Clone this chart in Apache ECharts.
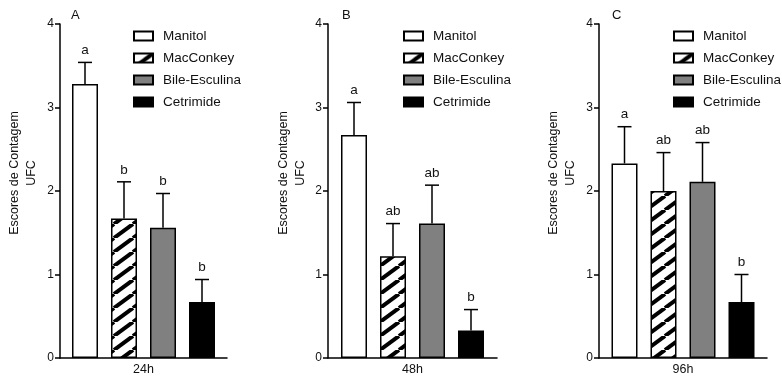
<!DOCTYPE html>
<html>
<head>
<meta charset="utf-8">
<script src="https://cdn.jsdelivr.net/npm/echarts@6/dist/echarts.min.js"></script>
<style>
html,body{margin:0;padding:0;background:#fff;}
#chart{width:782px;height:377px;}
</style>
</head>
<body>
<div id="chart"></div>
<script>
// ---- data ----
const panelLabels = ['A', 'B', 'C'];
const timeCategories = ['24h', '48h', '96h'];
const media = ['Manitol', 'MacConkey', 'Bile-Esculina', 'Cetrimide'];
const yTicks = [0, 1, 2, 3, 4];
const yTitle = 'Escores de Contagem\nUFC';

const manitolMean   = [3.28, 2.67, 2.33];
const macconkeyMean = [1.67, 1.22, 2.00];
const bileMean      = [1.56, 1.61, 2.11];
const cetrimideMean = [0.67, 0.33, 0.67];

const manitolErr   = [0.26, 0.39, 0.44];
const macconkeyErr = [0.44, 0.39, 0.46];
const bileErr      = [0.41, 0.46, 0.47];
const cetrimideErr = [0.27, 0.25, 0.33];

const lettersA = ['a', 'b', 'b', 'b'];
const lettersB = ['a', 'ab', 'ab', 'b'];
const lettersC = ['a', 'ab', 'ab', 'b'];

// ---- layout / style ----
const FONT = 'Liberation Sans, Arial, sans-serif';
const meansByMedium = [manitolMean, macconkeyMean, bileMean, cetrimideMean];
const errsByMedium = [manitolErr, macconkeyErr, bileErr, cetrimideErr];
const lettersByPanel = [lettersA, lettersB, lettersC];

const grids = [
  {left: 60, width: 167},
  {left: 328, width: 169},
  {left: 599, width: 168}
];
const legendLeft = [133, 403, 673];
const titleLeft = [71, 342, 612];
const yTitleX = [23.5, 292, 562];
const BAR_W = 26, BAR_GAP = 13;

function hatch() {
  const W = 19, H = 14;
  const c = document.createElement('canvas');
  c.width = W; c.height = H;
  const ctx = c.getContext('2d');
  ctx.fillStyle = '#fff';
  ctx.fillRect(0, 0, W, H);
  ctx.strokeStyle = '#000';
  ctx.lineWidth = 4;
  for (const k of [-W, 0, W]) {
    ctx.beginPath();
    ctx.moveTo(k, H);
    ctx.lineTo(k + W, 0);
    ctx.stroke();
  }
  return {image: c, repeat: 'repeat'};
}
const fills = ['#ffffff', hatch(), '#808080', '#000000'];

const option = {
  animation: false,
  backgroundColor: '#fff',
  grid: grids.map(g => ({left: g.left, width: g.width, top: 24, bottom: 19, containLabel: false})),
  title: panelLabels.map((t, i) => ({
    text: t, left: titleLeft[i], top: 9, padding: 0,
    textStyle: {fontSize: 13, fontWeight: 'normal', color: '#111', fontFamily: FONT}
  })),
  legend: panelLabels.map((t, i) => ({
    orient: 'vertical', left: legendLeft[i], top: 28, padding: 0,
    itemWidth: 19, itemHeight: 9, itemGap: 6, icon: 'rect',
    selectedMode: false,
    data: media,
    textStyle: {fontSize: 13.5, lineHeight: 16, color: '#111', fontFamily: FONT, padding: [0, 0, 0, 5]}
  })),
  xAxis: panelLabels.map((t, i) => ({
    type: 'category', gridIndex: i, data: [timeCategories[i]],
    axisLine: {lineStyle: {color: '#000', width: 1.5}},
    axisTick: {alignWithLabel: true, length: 4, lineStyle: {color: '#000', width: 1.5}},
    axisLabel: {margin: 5, fontSize: 12.5, color: '#111', fontFamily: FONT},
    splitLine: {show: false}
  })),
  yAxis: panelLabels.map((t, i) => ({
    type: 'value', gridIndex: i, min: yTicks[0], max: yTicks[yTicks.length - 1], interval: 1,
    axisLine: {show: true, lineStyle: {color: '#000', width: 1.5}},
    axisTick: {show: true, length: 5, lineStyle: {color: '#000', width: 1.5}},
    axisLabel: {margin: 6, fontSize: 12, color: '#111', fontFamily: FONT},
    splitLine: {show: false}
  })),
  graphic: panelLabels.map((t, i) => ({
    type: 'text', x: yTitleX[i], y: 173, rotation: Math.PI / 2,
    style: {text: yTitle, textAlign: 'center', textVerticalAlign: 'middle',
      font: '12.5px ' + FONT, lineHeight: 17, fill: '#111'}
  })),
  series: []
};

for (let p = 0; p < 3; p++) {
  media.forEach((m, k) => {
    option.series.push({
      type: 'bar', name: m, xAxisIndex: p, yAxisIndex: p,
      barWidth: BAR_W, barGap: (BAR_GAP / BAR_W * 100) + '%',
      data: [meansByMedium[k][p]],
      itemStyle: {color: fills[k], borderColor: '#000', borderWidth: 1.5},
      z: 2
    });
  });
  const letters = lettersByPanel[p];
  option.series.push({
    type: 'custom', xAxisIndex: p, yAxisIndex: p, z: 3,
    data: media.map((m, k) => [0, meansByMedium[k][p] + errsByMedium[k][p], meansByMedium[k][p]]),
    renderItem: function (params, api) {
      const k = params.dataIndex;
      const base = api.coord([0, api.value(2)]);
      const top = api.coord([0, api.value(1)]);
      const x = base[0] + (k - 1.5) * (BAR_W + BAR_GAP);
      return {
        type: 'group',
        children: [
          {type: 'line', shape: {x1: x, y1: base[1], x2: x, y2: top[1]}, style: {stroke: '#000', lineWidth: 1.5}},
          {type: 'line', shape: {x1: x - 7, y1: top[1], x2: x + 7, y2: top[1]}, style: {stroke: '#000', lineWidth: 1.5}},
          {type: 'text', style: {text: letters[k], x: x, y: top[1] - 5, textAlign: 'center', textVerticalAlign: 'bottom',
            font: '13.5px ' + FONT, fill: '#111'}}
        ]
      };
    }
  });
}

const chart = echarts.init(document.getElementById('chart'), null, {renderer: 'canvas'});
chart.setOption(option);
</script>
</body>
</html>
